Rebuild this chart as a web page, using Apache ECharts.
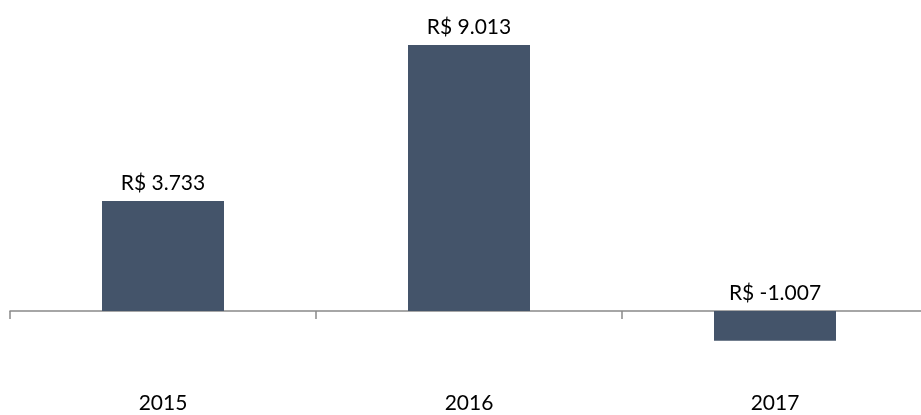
<!DOCTYPE html>
<html>
<head>
<meta charset="utf-8">
<style>
  html, body { margin: 0; padding: 0; background: #ffffff; }
  #chart { width: 921px; height: 415px; }
</style>
<script src="https://cdn.jsdelivr.net/npm/echarts@6/dist/echarts.min.js"></script>
</head>
<body>
<div id="chart"></div>
<script>
// Yearly result, in thousands of R$
const years = ['2015', '2016', '2017'];
const results = [3.733, 9.013, -1.007];

const FONT = 'Lato';

function formatBRL(v) {
  return 'R$ ' + v.toFixed(3);
}

const chart = echarts.init(document.getElementById('chart'), null, { renderer: 'canvas' });

chart.setOption({
  animation: false,
  backgroundColor: '#ffffff',
  // plot area runs slightly past the right edge, so the last category band is clipped
  grid: { left: 10, width: 918, top: 16, height: 354, containLabel: false, outerBoundsMode: 'none' },
  xAxis: [
    {
      // baseline at zero with category tick marks
      type: 'category',
      data: years,
      position: 'bottom',
      axisLine: { show: true, onZero: true, lineStyle: { color: '#898989', width: 1.5 } },
      axisTick: { show: true, length: 8, lineStyle: { color: '#898989', width: 1.5 } },
      axisLabel: { show: false },
      splitLine: { show: false }
    },
    {
      // category labels along the bottom edge
      type: 'category',
      data: years,
      position: 'bottom',
      axisLine: { show: false, onZero: false },
      axisTick: { show: false },
      axisLabel: { show: true, margin: 23, color: '#000000', fontFamily: FONT, fontSize: 21 },
      splitLine: { show: false }
    }
  ],
  yAxis: {
    type: 'value',
    min: -2,
    max: 10,
    show: false,
    splitLine: { show: false }
  },
  series: [
    {
      type: 'bar',
      xAxisIndex: 0,
      data: results,
      barWidth: 122,
      itemStyle: { color: '#44546A' },
      label: {
        show: true,
        position: 'top',
        distance: 7,
        color: '#000000',
        fontFamily: FONT,
        fontSize: 21,
        formatter: p => formatBRL(p.value)
      }
    }
  ]
});
</script>
</body>
</html>
